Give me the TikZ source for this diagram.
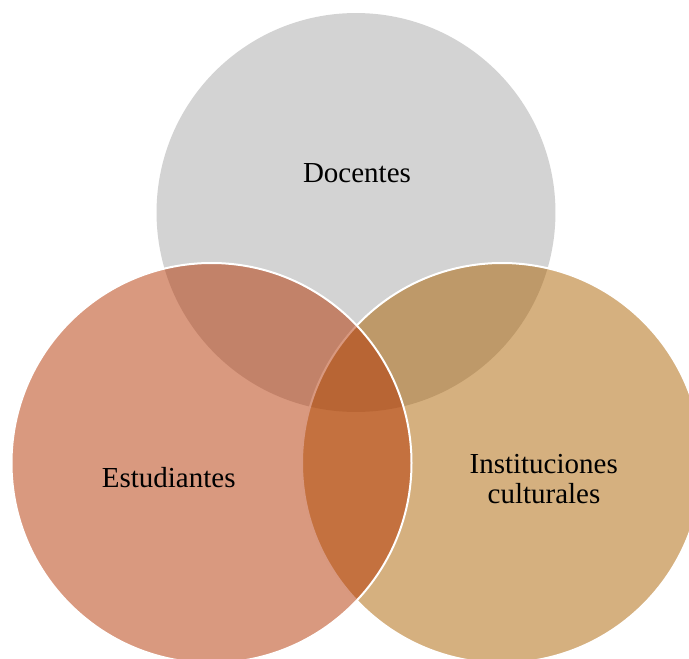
\documentclass[tikz,border=0pt]{standalone}
\usepackage{fontspec}
\setmainfont{Liberation Serif}
\definecolor{docgray}{RGB}{211,211,211}
\definecolor{estcol}{RGB}{179,51,0}
\definecolor{inscol}{RGB}{171,97,0}
\tikzset{
  venn/.style={draw=white, line width=1.5pt, fill opacity=0.5},
  lbl/.style={font=\fontsize{21.75pt}{22.5pt}\selectfont, text=black, anchor=base, align=center, inner sep=0pt}
}
\begin{document}
\begin{tikzpicture}[x=0.75pt,y=-0.75pt]
\useasboundingbox (0,0) rectangle (689,659);
\clip (0,0) rectangle (689,659);
\coordinate (cD) at (356,212.5);
\coordinate (cE) at (211.5,463);
\coordinate (cI) at (502,463);
\fill[docgray] (cD) circle[radius=149.6pt];
\draw[venn, fill=inscol] (cI) circle[radius=150pt];
\draw[venn, fill=estcol] (cE) circle[radius=150pt];
\node[lbl] (doc) at (357,182.3) {Docentes};
\node[lbl] (est) at (168.7,487.7) {Estudiantes};
\node[lbl] (ins1) at (543.7,473.3) {Instituciones};
\node[lbl] (ins2) at (544,503.3) {culturales};
\end{tikzpicture}
\end{document}
